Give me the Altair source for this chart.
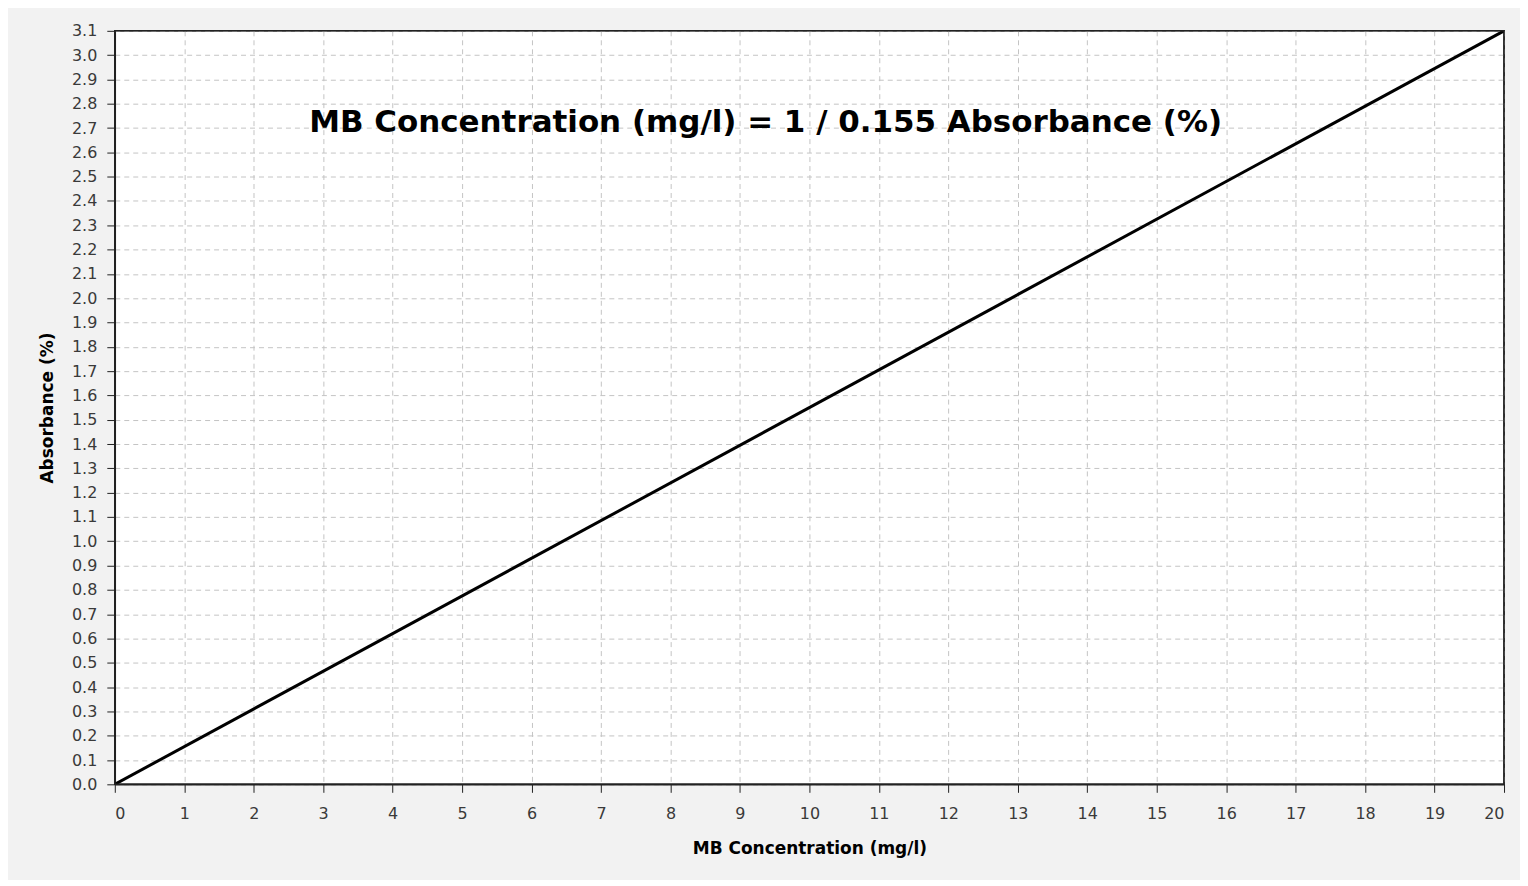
import altair as alt
import pandas as pd

# Data
conc = [0, 20]
absorb = [0.0, 3.1]
x_ticks = list(range(0, 21))
y_ticks = [round(i * 0.1, 1) for i in range(0, 32)]
eq_text = ["MB Concentration (mg/l) = 1 / 0.155 Absorbance (%)"]
eq_x = [9.37]
eq_y = [2.72]

W, H = 1392, 755

line_df = pd.DataFrame({"conc": conc, "absorb": absorb})
txt_df = pd.DataFrame({"conc": eq_x, "absorb": eq_y, "t": eq_text})

FONT = "DejaVu Sans"

xscale = alt.Scale(domain=[0, 20], nice=False, zero=False)
yscale = alt.Scale(domain=[0, 3.1], nice=False, zero=False)
xaxis = alt.Axis(values=x_ticks, title="MB Concentration (mg/l)", format="d",
                 titlePadding=19, labelPadding=13, labelOverlap=False)
yaxis = alt.Axis(values=y_ticks, title="Absorbance (%)", format=".1f",
                 titlePadding=15, labelPadding=10, labelOverlap=False)

line = alt.Chart(line_df).mark_line(color="black", strokeWidth=3, clip=True).encode(
    x=alt.X("conc:Q", scale=xscale, axis=xaxis),
    y=alt.Y("absorb:Q", scale=yscale, axis=yaxis),
)

txt = alt.Chart(txt_df).mark_text(
    font=FONT, fontSize=31, fontWeight="bold", color="black", align="center", baseline="middle"
).encode(
    x=alt.X("conc:Q", scale=xscale, axis=xaxis),
    y=alt.Y("absorb:Q", scale=yscale, axis=yaxis),
    text="t:N",
)

frame = alt.Chart(pd.DataFrame({"a": [0]})).mark_rect(
    fill=None, fillOpacity=0, stroke="#222222", strokeWidth=1.5
).encode(
    x=alt.value(0), x2=alt.value(W), y=alt.value(0), y2=alt.value(H)
)

chart = alt.layer(line, txt, frame).properties(
    width=W, height=H,
    background="#f2f2f2",
    padding={"left": 107, "top": 22, "right": 16, "bottom": 95},
    autosize=alt.AutoSizeParams(type="none"),
).configure_view(
    fill="white", stroke="#222222", strokeWidth=1.5
).configure_axis(
    labelFont=FONT, labelFontSize=16, labelColor="#3a3a3a", labelOverlap=False,
    titleFont=FONT, titleFontSize=17, titleFontWeight="bold", titleColor="black",
    domainColor="#222222", domainWidth=1.5,
    tickColor="#222222", tickSize=8,
    grid=True, gridColor="#c4c4c4", gridDash=[5, 4], gridWidth=1,
)

chart.save("out.html", embed_options={"renderer": "svg", "actions": False})
